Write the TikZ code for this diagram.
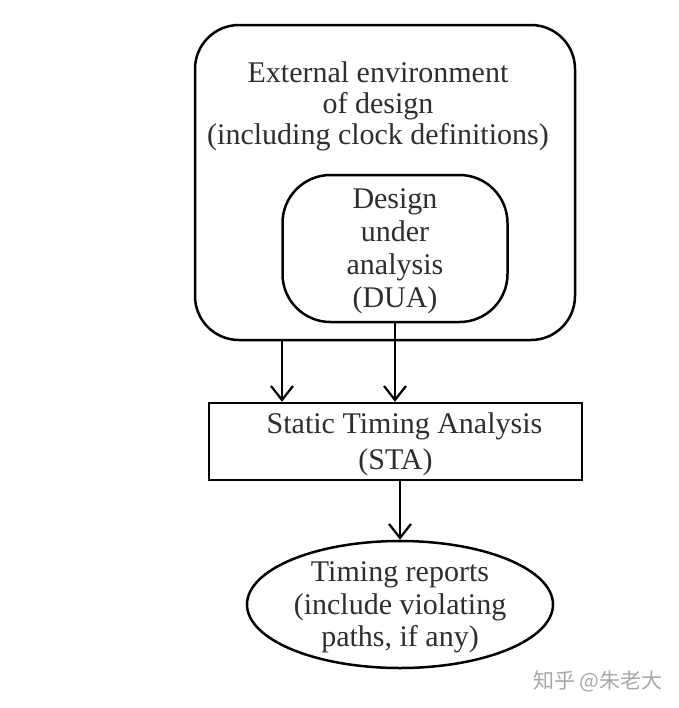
\documentclass[tikz,border=0pt]{standalone}
\usepackage{fontspec}
\setmainfont{Liberation Serif}
\newfontfamily\cjkfont{Noto Sans CJK SC}
\usepackage{xcolor}
\usetikzlibrary{shapes.geometric,arrows.meta}
\definecolor{bg}{HTML}{FFFFFF}
\definecolor{ink}{HTML}{000000}
\definecolor{txt}{HTML}{2E2E2E}
\definecolor{wmark}{HTML}{A8A8A8}
\tikzset{
  frame/.style={draw=ink, line width=1.25pt, rounded corners=22pt},
  box/.style={draw=ink, line width=1.25pt, text=txt, align=center, text depth=0pt},
  oval/.style={ellipse, draw=ink, line width=1.25pt, text=txt, align=center, inner sep=0pt, text depth=0pt},
  arr/.style={draw=ink, line width=1.25pt, -{Straight Barb[length=7pt,width=11pt,line width=1.1pt]}},
  lab/.style={text=txt, align=center}
}

\begin{document}
\begin{tikzpicture}[x=0.5pt, y=-0.5pt, font=\fontsize{15}{15.5}\selectfont]
  \useasboundingbox[fill=bg] (0,0) rectangle (679,708);
  % outer environment
  \node[frame, minimum width=190pt, minimum height=157.5pt] (env) at (385,182.5) {};
  \node[lab] (envtxt) at (378,106) {External environment\\of design\\(including clock definitions)};
  % design under analysis
  \node[box, rounded corners=24pt, minimum width=112.5pt, minimum height=73.5pt,
        font=\fontsize{15}{16.5}\selectfont] (dua) at (395,248.5)
        {Design\\under\\analysis\\(DUA)};
  % STA
  \node[box, minimum width=186.5pt, minimum height=38.5pt,
        font=\fontsize{15}{18}\selectfont] (sta) at (395.5,441.5)
        {\hspace*{9pt}Static Timing Analysis\\(STA)};
  % reports
  \node[oval, minimum width=153pt, minimum height=63.5pt,
        font=\fontsize{15}{16.25}\selectfont] (rep) at (400,604.5)
        {Timing reports\\(include violating\\paths, if any)};
  % connectors
  \coordinate (tapL) at (282,340);
  \draw[arr] (tapL) -- (tapL |- sta.north);
  \draw[arr] (dua.south) -- (dua.south |- sta.north);
  \draw[arr] (sta.south -| rep.north) -- (rep.north);
  % watermark
  \node[text=wmark, font=\cjkfont\fontsize{10.5}{12}\selectfont] (wm) at (598,681) {知乎 @朱老大};
\end{tikzpicture}
\end{document}
